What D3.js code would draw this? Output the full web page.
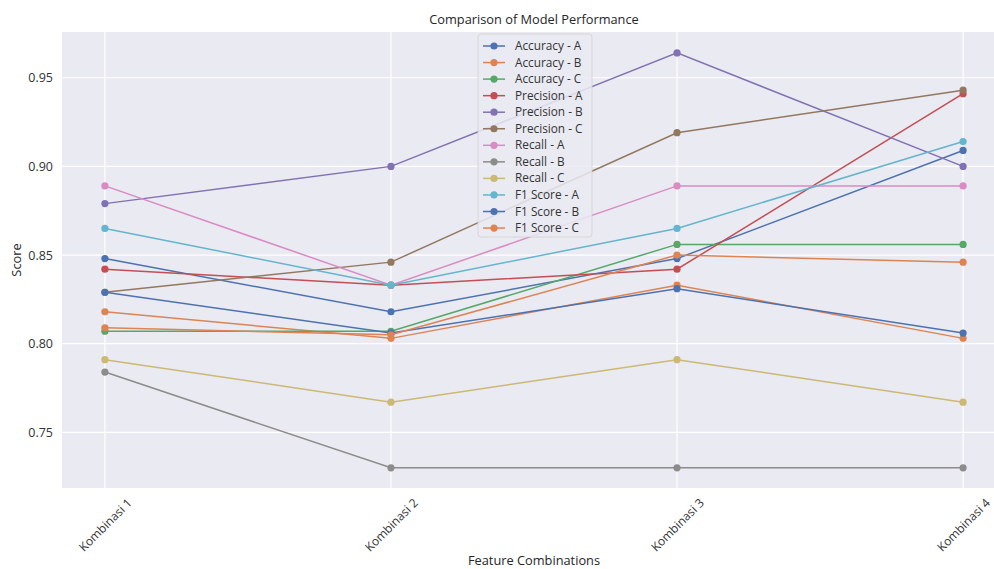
<!DOCTYPE html>
<html><head><meta charset="utf-8">
<script src="https://cdn.jsdelivr.net/npm/d3@7"></script>
<style>body{margin:0;background:#fff;}svg{display:block;font-family:"Open Sans",sans-serif;}</style>
</head><body>
<svg id="chart" width="994" height="569"></svg>
<script>
const categories = ["Kombinasi 1", "Kombinasi 2", "Kombinasi 3", "Kombinasi 4"];
const seriesNames = ["Accuracy - A","Accuracy - B","Accuracy - C","Precision - A","Precision - B","Precision - C","Recall - A","Recall - B","Recall - C","F1 Score - A","F1 Score - B","F1 Score - C"];
const accuracyA = [0.848, 0.818, 0.848, 0.909];
const accuracyB = [0.818, 0.803, 0.833, 0.803];
const accuracyC = [0.807, 0.807, 0.856, 0.856];
const precisionA = [0.842, 0.833, 0.842, 0.941];
const precisionB = [0.879, 0.900, 0.964, 0.900];
const precisionC = [0.829, 0.846, 0.919, 0.943];
const recallA = [0.889, 0.833, 0.889, 0.889];
const recallB = [0.784, 0.730, 0.730, 0.730];
const recallC = [0.791, 0.767, 0.791, 0.767];
const f1A = [0.865, 0.833, 0.865, 0.914];
const f1B = [0.829, 0.806, 0.831, 0.806];
const f1C = [0.809, 0.805, 0.850, 0.846];
const yTicks = [0.75, 0.80, 0.85, 0.90, 0.95];
const palette = ["#4C72B0","#DD8452","#55A868","#C44E52","#8172B3","#937860","#DA8BC3","#8C8C8C","#CCB974","#64B5CD"];

const seriesValues = [accuracyA, accuracyB, accuracyC, precisionA, precisionB, precisionC, recallA, recallB, recallC, f1A, f1B, f1C];
const series = seriesNames.map((n, i) => ({name: n, values: seriesValues[i], color: palette[i % palette.length]}));

const svg = d3.select("#chart");
const plot = {left: 62, right: 1006, top: 32, bottom: 488};

const x = d3.scaleLinear().domain([-0.15, categories.length - 1 + 0.15]).range([plot.left, plot.right]);
const y = d3.scaleLinear().domain([0.7186, 0.9758]).range([plot.bottom, plot.top]);

svg.append("rect").attr("x", plot.left).attr("y", plot.top)
  .attr("width", plot.right - plot.left).attr("height", plot.bottom - plot.top).attr("fill", "#EAEAF2");

// grid
const g = svg.append("g");
g.selectAll(".hg").data(yTicks).join("line")
  .attr("x1", plot.left).attr("x2", plot.right)
  .attr("y1", d => y(d)).attr("y2", d => y(d))
  .attr("stroke", "#fff").attr("stroke-width", 1.2);
g.selectAll(".vg").data(categories).join("line")
  .attr("x1", (d, i) => x(i)).attr("x2", (d, i) => x(i))
  .attr("y1", plot.top).attr("y2", plot.bottom)
  .attr("stroke", "#fff").attr("stroke-width", 1.2);

// axes
const yAxis = d3.axisLeft(y).tickValues(yTicks).tickFormat(d3.format(".2f")).tickSize(0).tickPadding(9);
const ya = svg.append("g").attr("transform", `translate(${plot.left},0)`).call(yAxis);
ya.select(".domain").remove();
ya.selectAll("text").attr("font-size", 12.5).attr("fill", "#333").attr("font-family", "Open Sans, sans-serif");

const xAxis = d3.axisBottom(x).tickValues(d3.range(categories.length)).tickFormat(i => categories[i]).tickSize(0).tickPadding(0);
const xa = svg.append("g").attr("transform", `translate(0,${plot.bottom})`).call(xAxis);
xa.select(".domain").remove();
xa.selectAll("text").attr("font-size", 12).attr("fill", "#333").attr("font-family", "Open Sans, sans-serif")
  .attr("text-anchor", "middle").attr("dy", "0.35em").attr("y", 0)
  .attr("transform", "translate(0,37) rotate(-45)");

// lines
const line = d3.line().x((d, i) => x(i)).y(d => y(d));
series.forEach(s => {
  const sg = svg.append("g");
  sg.append("path").datum(s.values).attr("d", line).attr("fill", "none")
    .attr("stroke", s.color).attr("stroke-width", 1.5);
  sg.selectAll("circle").data(s.values).join("circle")
    .attr("cx", (d, i) => x(i)).attr("cy", d => y(d)).attr("r", 3.6).attr("fill", s.color);
});

// title and labels
svg.append("text").attr("x", 534).attr("y", 24).attr("text-anchor", "middle")
  .attr("font-size", 12.8).attr("fill", "#262626").text("Comparison of Model Performance");
svg.append("text").attr("x", 534).attr("y", 565).attr("text-anchor", "middle")
  .attr("font-size", 12.8).attr("fill", "#262626").text("Feature Combinations");
svg.append("text").attr("transform", `translate(21,${(plot.top + plot.bottom) / 2}) rotate(-90)`)
  .attr("text-anchor", "middle").attr("font-size", 12.8).attr("fill", "#262626").text("Score");

// legend
const lg = svg.append("g").attr("transform", "translate(478,34)");
lg.append("rect").attr("x", 0).attr("y", 0).attr("width", 114).attr("height", 203).attr("rx", 3)
  .attr("fill", "#EAEAF2").attr("fill-opacity", 0.85).attr("stroke", "#d0d0d0").attr("stroke-width", 0.8);
series.forEach((s, i) => {
  const yy = 12 + i * 16.55;
  lg.append("line").attr("x1", 5).attr("x2", 27).attr("y1", yy).attr("y2", yy)
    .attr("stroke", s.color).attr("stroke-width", 1.5);
  lg.append("circle").attr("cx", 16).attr("cy", yy).attr("r", 3.6).attr("fill", s.color);
  lg.append("text").attr("x", 37).attr("y", yy + 4).attr("font-size", 11.8).attr("fill", "#333").text(s.name);
});
</script>
</body></html>
